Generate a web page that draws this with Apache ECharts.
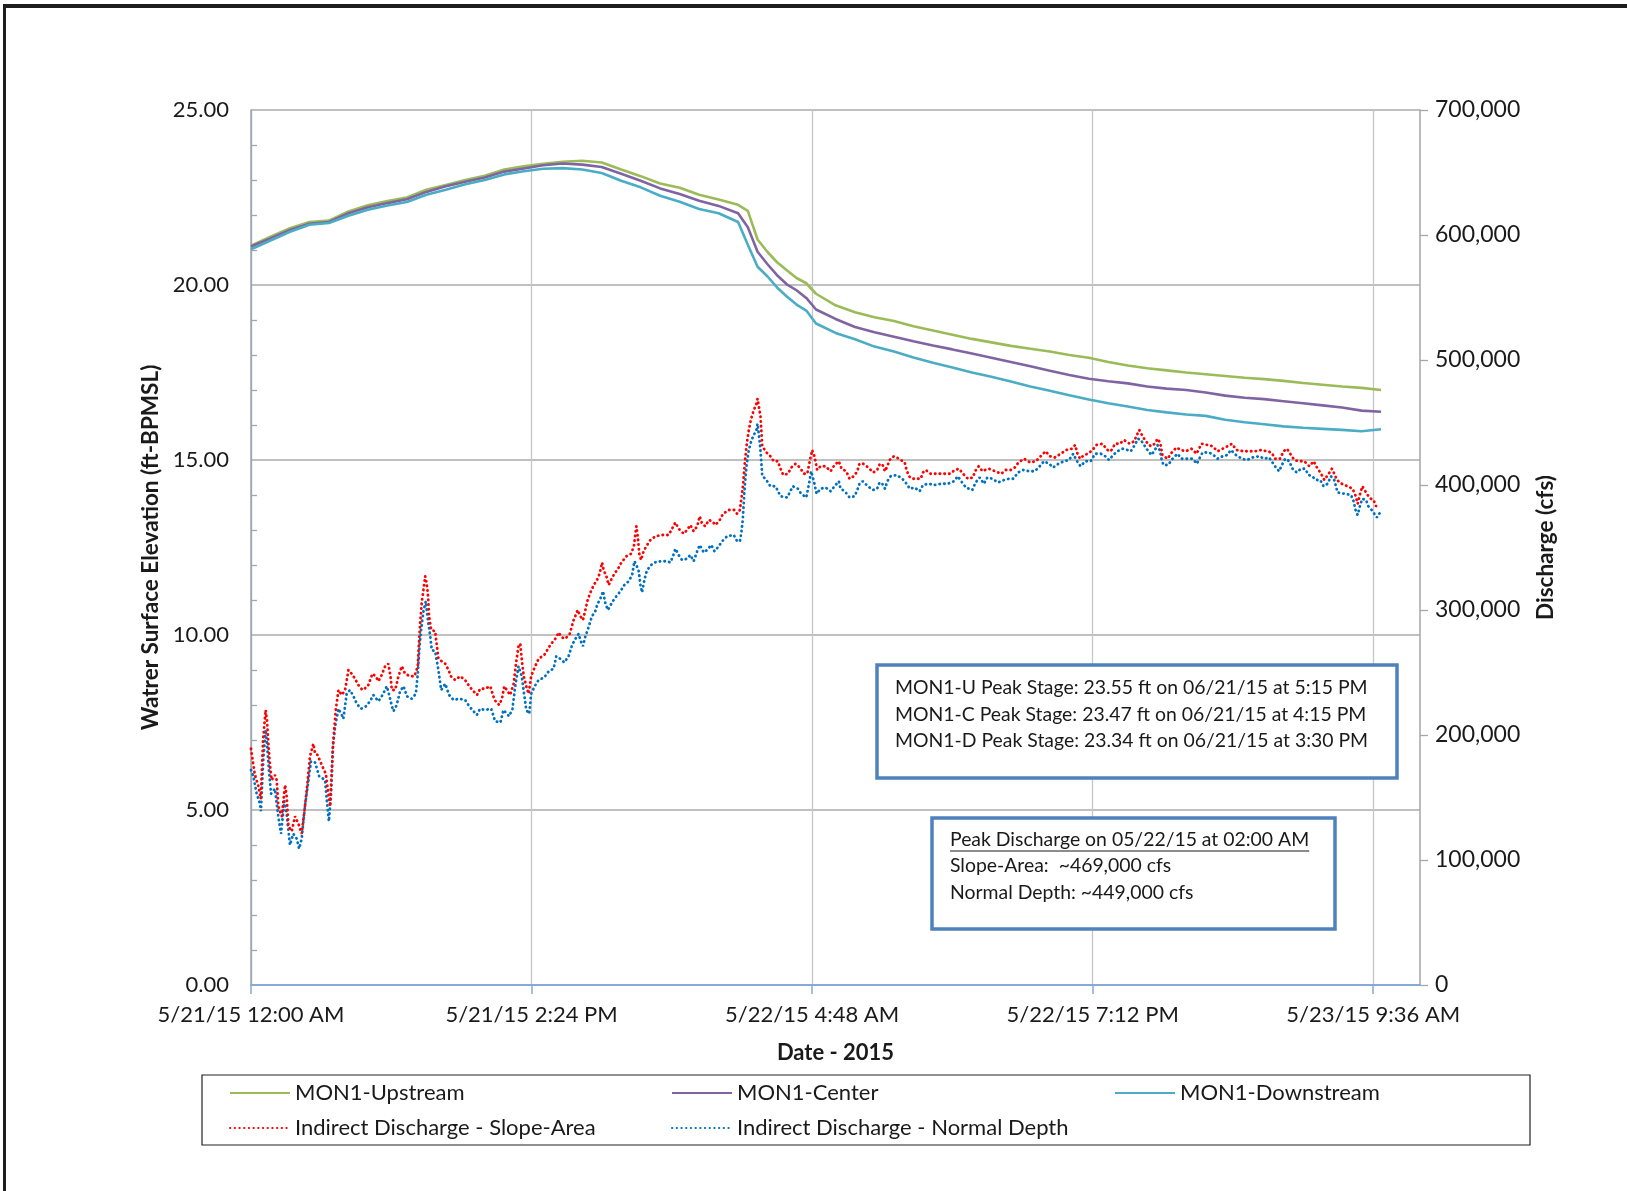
<!DOCTYPE html>
<html><head><meta charset="utf-8">
<script src="https://cdn.jsdelivr.net/npm/echarts@6/dist/echarts.min.js"></script>
<style>html,body{margin:0;padding:0;background:#fff}#c{width:1627px;height:1191px}</style>
</head><body><div id="c"></div>
<script>
const FONT = 'Lato';
const xTickHours = [0, 14.4, 28.8, 43.2, 57.6];
const xTickLabels = ['5/21/15 12:00 AM', '5/21/15 2:24 PM', '5/22/15 4:48 AM', '5/22/15 7:12 PM', '5/23/15 9:36 AM'];

// hours since 5/21/15 12:00 AM
const stageHours = [0,1,2,3,4,5,6,7,8,9,10,11,12,13,14,15,16,17,18,19,20,21,22,23,24,25,25.5,26,26.5,27,27.5,28,28.5,29,
  30,31,32,33,34,35,36,37,38,39,40,41,42,43,44,45,46,47,48,49,50,51,52,53,54,55,56,57,58];
const upstream = [21.12,21.38,21.62,21.8,21.84,22.1,22.28,22.4,22.5,22.72,22.86,23.0,23.12,23.3,23.39,23.46,23.52,23.55,23.5,23.3,23.11,22.9,22.78,22.58,22.44,22.29,
  22.12,21.3,20.95,20.65,20.42,20.2,20.05,19.75,
  19.42,19.22,19.08,18.97,18.82,18.7,18.58,18.46,18.36,18.26,18.18,18.1,18.0,17.92,17.8,17.7,17.62,17.56,17.5,17.45,17.4,17.35,17.31,17.26,17.2,17.15,17.1,17.06,17.0];
const center = [21.1,21.33,21.57,21.75,21.8,22.05,22.22,22.34,22.45,22.66,22.82,22.95,23.07,23.24,23.33,23.42,23.47,23.44,23.37,23.18,22.98,22.76,22.6,22.41,22.26,22.05,
  21.65,20.95,20.6,20.28,20.02,19.85,19.63,19.3,
  19.03,18.8,18.65,18.52,18.39,18.27,18.16,18.04,17.92,17.8,17.68,17.55,17.43,17.32,17.25,17.19,17.1,17.04,17.0,16.93,16.84,16.78,16.74,16.68,16.62,16.56,16.5,16.41,16.38];
const downstream = [21.02,21.27,21.52,21.72,21.77,21.98,22.15,22.27,22.37,22.58,22.72,22.88,23.0,23.16,23.25,23.32,23.34,23.3,23.2,22.98,22.79,22.55,22.38,22.17,22.05,21.8,
  21.15,20.52,20.25,19.93,19.67,19.44,19.27,18.9,
  18.63,18.45,18.24,18.1,17.93,17.78,17.64,17.5,17.38,17.24,17.1,16.98,16.85,16.73,16.62,16.53,16.43,16.36,16.3,16.26,16.15,16.08,16.02,15.96,15.92,15.89,15.86,15.82,15.88];

// [hour, discharge in thousand cfs]
const slopeArea = [[0,189],[0.2,168],[0.38,159],[0.5,149],[0.62,196],[0.75,220],[0.82,212],[0.89,193],[0.98,175],[1.06,164],[1.23,168],[1.32,164],[1.4,143],[1.58,135],[1.75,160],[1.83,151],[1.92,127],[2.09,123],[2.26,135],[2.43,129],[2.6,121],[2.74,139],[2.86,156],[3.03,183],[3.2,193],[3.29,185],[3.42,184],[3.66,175],[3.84,169],[3.97,153],[4.06,143],[4.14,169],[4.23,196],[4.35,220],[4.49,236],[4.66,232],[4.83,236],[5.0,252],[5.17,249],[5.34,245],[5.51,240],[5.72,236],[6.0,239],[6.23,249],[6.4,247],[6.54,243],[6.71,248],[6.88,255],[7.05,257],[7.16,247],[7.23,236],[7.4,236],[7.57,247],[7.74,255],[7.91,249],[8.17,247],[8.39,247],[8.56,255],[8.6,268],[8.68,289],[8.77,307],[8.85,316],[8.94,327],[9.02,321],[9.08,313],[9.14,295],[9.25,284],[9.45,283],[9.62,261],[9.79,259],[9.97,257],[10.14,252],[10.26,247],[10.48,244],[10.74,247],[10.99,244],[11.2,239],[11.42,235],[11.6,232],[11.76,237],[12.0,237],[12.28,239],[12.5,228],[12.74,224],[12.88,229],[13.0,239],[13.13,236],[13.3,232],[13.48,241],[13.6,257],[13.73,271],[13.82,273],[13.9,260],[14.0,247],[14.16,237],[14.25,233],[14.38,247],[14.5,252],[14.76,261],[15.05,264],[15.36,272],[15.62,277],[15.79,282],[15.96,278],[16.13,277],[16.36,281],[16.56,292],[16.77,300],[16.9,295],[17.04,292],[17.16,300],[17.28,308],[17.42,314],[17.59,320],[17.76,324],[17.89,329],[18.02,338],[18.1,332],[18.24,327],[18.36,320],[18.48,324],[18.65,329],[18.84,333],[19.01,338],[19.27,343],[19.51,345],[19.65,351],[19.73,361],[19.78,367],[19.85,359],[19.93,345],[20.02,340],[20.15,347],[20.29,351],[20.5,356],[20.76,359],[21.1,360],[21.44,360],[21.61,365],[21.78,370],[21.95,365],[22.21,361],[22.38,364],[22.55,368],[22.72,363],[22.9,367],[23.03,375],[23.15,369],[23.32,367],[23.5,372],[23.67,371],[23.84,368],[24.06,372],[24.23,377],[24.52,380],[24.81,380],[24.95,377],[25.09,380],[25.17,389],[25.26,401],[25.33,415],[25.43,431],[25.55,444],[25.67,453],[25.81,460],[25.94,465],[26.0,469],[26.15,455],[26.24,431],[26.46,426],[26.66,423],[26.83,419],[27.04,419],[27.18,413],[27.32,408],[27.56,409],[27.73,414],[27.95,417],[28.17,414],[28.38,409],[28.55,409],[28.68,419],[28.8,428],[28.92,423],[29.06,412],[29.23,415],[29.49,415],[29.75,411],[29.95,416],[30.17,419],[30.31,413],[30.55,411],[30.72,405],[30.94,407],[31.12,411],[31.23,417],[31.42,417],[31.68,414],[31.94,410],[32.14,412],[32.28,417],[32.42,416],[32.54,411],[32.66,415],[32.78,420],[33.0,423],[33.26,421],[33.55,418],[33.65,412],[33.77,407],[33.94,405],[34.15,405],[34.37,405],[34.49,410],[34.63,412],[34.88,409],[35.19,409],[35.52,409],[35.87,409],[36.13,412],[36.34,413],[36.54,409],[36.8,405],[37.06,406],[37.16,411],[37.35,415],[37.55,411],[37.68,412],[37.88,413],[38.19,411],[38.51,409],[38.74,412],[38.99,412],[39.2,414],[39.39,418],[39.68,421],[39.99,418],[40.28,419],[40.53,423],[40.79,427],[41.0,423],[41.25,422],[41.56,425],[41.85,428],[42.13,429],[42.3,432],[42.42,425],[42.55,421],[42.76,424],[42.96,425],[43.19,428],[43.39,432],[43.7,433],[43.96,428],[44.13,427],[44.35,433],[44.59,433],[44.81,436],[45.1,433],[45.33,435],[45.47,440],[45.59,444],[45.76,439],[45.93,435],[46.18,431],[46.39,433],[46.53,437],[46.66,434],[46.78,424],[47.04,421],[47.26,426],[47.5,430],[47.73,428],[47.98,427],[48.27,429],[48.53,425],[48.79,433],[49.1,432],[49.35,431],[49.61,427],[49.87,429],[50.12,431],[50.35,433],[50.58,428],[50.93,427],[51.24,427],[51.53,427],[51.87,428],[52.13,427],[52.38,426],[52.57,421],[52.81,421],[53.0,427],[53.17,429],[53.34,425],[53.55,420],[53.8,419],[54.06,419],[54.32,415],[54.54,419],[54.71,414],[54.92,409],[55.09,404],[55.31,409],[55.48,413],[55.6,409],[55.74,404],[55.98,401],[56.29,399],[56.54,397],[56.68,392],[56.8,385],[56.93,393],[57.04,399],[57.16,396],[57.31,392],[57.48,389],[57.62,388],[57.74,383],[57.91,384]];

const normalDepth = [[0,172],[0.12,167],[0.29,153],[0.46,145],[0.51,139],[0.63,180],[0.75,204],[0.82,193],[0.92,172],[1.03,153],[1.23,157],[1.4,135],[1.54,121],[1.71,147],[1.83,137],[2.0,112],[2.17,121],[2.35,117],[2.47,109],[2.6,117],[2.77,143],[2.95,164],[3.08,179],[3.29,178],[3.5,167],[3.8,164],[3.89,148],[4.0,131],[4.11,153],[4.2,191],[4.32,207],[4.49,221],[4.66,216],[4.74,213],[4.91,233],[5.08,236],[5.26,231],[5.43,225],[5.65,221],[5.9,223],[6.11,227],[6.28,232],[6.54,227],[6.75,232],[6.97,239],[7.11,231],[7.23,223],[7.31,219],[7.48,224],[7.65,235],[7.83,239],[8.0,231],[8.25,229],[8.46,233],[8.56,249],[8.65,271],[8.73,284],[8.85,299],[8.97,307],[9.08,292],[9.2,279],[9.28,268],[9.45,267],[9.62,252],[9.76,236],[9.97,241],[10.17,232],[10.4,228],[10.68,229],[10.99,228],[11.2,223],[11.42,219],[11.59,216],[11.76,221],[12.0,220],[12.33,221],[12.53,211],[12.8,210],[12.96,220],[13.13,217],[13.25,215],[13.42,221],[13.56,239],[13.73,255],[13.9,247],[13.99,236],[14.13,220],[14.28,217],[14.38,233],[14.56,239],[14.76,244],[15.05,246],[15.28,251],[15.53,253],[15.67,263],[15.87,261],[16.08,258],[16.3,263],[16.48,272],[16.65,277],[16.82,281],[16.9,276],[17.04,271],[17.16,279],[17.28,284],[17.38,289],[17.5,295],[17.67,299],[17.79,305],[17.93,309],[18.07,315],[18.19,305],[18.32,300],[18.53,306],[18.75,311],[18.96,315],[19.16,320],[19.39,323],[19.56,328],[19.68,339],[19.78,336],[19.9,331],[19.99,320],[20.07,314],[20.19,324],[20.29,330],[20.46,335],[20.7,338],[21.05,339],[21.35,339],[21.52,338],[21.66,343],[21.78,349],[21.95,344],[22.12,340],[22.38,341],[22.55,344],[22.72,339],[22.9,347],[23.03,352],[23.24,346],[23.41,348],[23.62,352],[23.79,347],[24.01,351],[24.18,355],[24.44,359],[24.78,360],[24.95,355],[25.09,355],[25.16,361],[25.24,372],[25.33,396],[25.43,415],[25.55,428],[25.69,436],[25.81,440],[25.94,444],[26.0,449],[26.12,433],[26.2,417],[26.24,407],[26.41,405],[26.66,399],[26.92,399],[27.18,391],[27.52,390],[27.81,399],[28.07,397],[28.24,393],[28.5,390],[28.63,400],[28.75,411],[28.89,403],[29.03,393],[29.23,397],[29.49,398],[29.75,395],[29.95,399],[30.17,403],[30.26,397],[30.48,395],[30.72,390],[30.98,391],[31.12,396],[31.23,401],[31.4,403],[31.66,399],[31.92,396],[32.14,397],[32.26,402],[32.4,401],[32.54,397],[32.66,403],[32.83,407],[33.14,408],[33.43,405],[33.65,401],[33.81,397],[34.06,398],[34.32,395],[34.49,400],[34.76,401],[35.09,400],[35.43,401],[35.77,401],[36.08,403],[36.28,407],[36.45,403],[36.69,398],[37.02,396],[37.19,402],[37.4,406],[37.62,401],[37.79,406],[38.05,405],[38.34,402],[38.65,404],[38.91,405],[39.13,405],[39.37,410],[39.63,412],[39.94,411],[40.23,411],[40.48,415],[40.7,419],[40.96,417],[41.17,414],[41.44,417],[41.73,419],[41.99,420],[42.2,425],[42.33,421],[42.47,417],[42.59,415],[42.81,419],[43.1,419],[43.32,425],[43.62,425],[43.84,423],[44.04,420],[44.25,424],[44.47,427],[44.73,429],[44.98,428],[45.16,427],[45.36,432],[45.53,437],[45.67,436],[45.84,432],[46.01,428],[46.22,424],[46.39,428],[46.53,432],[46.66,427],[46.73,421],[46.83,416],[47.07,416],[47.3,421],[47.55,425],[47.76,421],[48.03,421],[48.32,421],[48.55,417],[48.67,421],[48.84,426],[49.18,426],[49.4,424],[49.61,421],[49.87,423],[50.12,424],[50.29,428],[50.55,424],[50.86,421],[51.12,420],[51.41,422],[51.75,423],[52.0,421],[52.26,422],[52.43,418],[52.6,414],[52.77,411],[52.91,416],[53.08,421],[53.29,419],[53.46,413],[53.67,410],[53.89,413],[54.1,413],[54.28,408],[54.46,407],[54.66,404],[54.88,404],[55.05,399],[55.26,401],[55.43,407],[55.6,404],[55.77,394],[56.12,393],[56.46,392],[56.59,387],[56.71,379],[56.8,376],[56.93,384],[57.04,389],[57.23,388],[57.35,383],[57.52,380],[57.62,379],[57.79,374],[57.99,379]];

const stageBoxLines = ['MON1-U Peak Stage: 23.55 ft on 06/21/15 at 5:15 PM',
  'MON1-C Peak Stage: 23.47 ft on 06/21/15 at 4:15 PM',
  'MON1-D Peak Stage: 23.34 ft on 06/21/15 at 3:30 PM'];
const dischargeBoxLines = ['Peak Discharge on 05/22/15 at 02:00 AM',
  'Slope-Area:  ~469,000 cfs',
  'Normal Depth: ~449,000 cfs'];

const seriesNames = ['MON1-Upstream', 'MON1-Center', 'MON1-Downstream',
  'Indirect Discharge - Slope-Area', 'Indirect Discharge - Normal Depth'];
const seriesColors = ['#9BBB59', '#8064A2', '#4BACC6', '#FF0000', '#0070C0'];

function textWidth(str, font) {
  const ctx = document.createElement('canvas').getContext('2d');
  ctx.font = font;
  return ctx.measureText(str).width;
}
function commas(v) {
  return String(v).replace(/\B(?=(\d{3})+(?!\d))/g, ',');
}

const TXT = '#1a1a1a';
const boxFont = 19.4;
const chart = echarts.init(document.getElementById('c'), null, {renderer: 'canvas'});

const stageSeries = [upstream, center, downstream].map((arr, k) => ({
  name: seriesNames[k], type: 'line', xAxisIndex: 0, yAxisIndex: 0,
  data: stageHours.map((h, i) => [h, arr[i]]),
  symbol: 'none', showSymbol: false, z: 3,
  lineStyle: {color: seriesColors[k], width: 2.6},
  itemStyle: {color: seriesColors[k]}
}));
const dischargeSeries = [slopeArea, normalDepth].map((arr, k) => ({
  name: seriesNames[3 + k], type: 'line', xAxisIndex: 0, yAxisIndex: 1,
  data: arr.map(p => [p[0], p[1] * 1000]),
  symbol: 'none', showSymbol: false, z: 4 - k,
  lineStyle: {color: seriesColors[3 + k], width: 2.8, type: [0.3, 4.4], cap: 'round'},
  itemStyle: {color: seriesColors[3 + k]}
}));

const legendBase = {
  orient: 'horizontal', padding: 0, itemGap: 0, itemWidth: 60, itemHeight: 14,
  selectedMode: false,
  itemStyle: {opacity: 0, color: 'rgba(0,0,0,0)', borderWidth: 0},
  textStyle: {fontSize: 22, fontFamily: FONT, color: TXT, lineHeight: 24}
};
const legendPos = [[229, 1081], [671, 1081], [1114, 1081], [229, 1116], [671, 1116]];

const ulFont = boxFont + 'px ' + FONT;
const ulW = textWidth(dischargeBoxLines[0], ulFont);

const graphics = [
  // outer frame (top & left)
  {type: 'rect', z: 100, shape: {x: 3, y: 4, width: 1624, height: 4}, style: {fill: '#1e1e1e'}},
  {type: 'rect', z: 100, shape: {x: 3, y: 4, width: 3, height: 1187}, style: {fill: '#1e1e1e'}},
  // legend frame
  {type: 'rect', z: 1, shape: {x: 202, y: 1075, width: 1328, height: 70}, style: {fill: 'none', stroke: '#222', lineWidth: 1.2}},
  // stage box
  {type: 'rect', z: 50, shape: {x: 877, y: 665, width: 520, height: 113}, style: {fill: '#fff', stroke: '#4F81BD', lineWidth: 3.5}},
  // discharge box
  {type: 'rect', z: 50, shape: {x: 932, y: 818, width: 403, height: 111}, style: {fill: '#fff', stroke: '#4F81BD', lineWidth: 3.5}},
  {type: 'line', z: 52, shape: {x1: 950, y1: 851, x2: 950 + ulW, y2: 851}, style: {stroke: TXT, lineWidth: 1.2}}
];
stageBoxLines.forEach((t, i) => graphics.push({type: 'text', z: 51, x: 895, y: [688, 715, 741][i],
  style: {text: t, fontSize: boxFont, fontFamily: FONT, fill: TXT, align: 'left', verticalAlign: 'middle'}}));
dischargeBoxLines.forEach((t, i) => graphics.push({type: 'text', z: 51, x: 950, y: [840, 866, 893][i],
  style: {text: t, fontSize: boxFont, fontFamily: FONT, fill: TXT, align: 'left', verticalAlign: 'middle'}}));

const option = {
  animation: false,
  backgroundColor: '#ffffff',
  textStyle: {fontFamily: FONT},
  grid: {left: 251, right: 207, top: 110, bottom: 206, containLabel: false, outerBoundsMode: 'none'},
  xAxis: [{
    type: 'value', min: 0, max: 60, interval: 2.88, position: 'bottom',
    axisLine: {show: true, onZero: false, lineStyle: {color: '#86A9D8', width: 2}},
    axisTick: {show: true, length: 9, customValues: xTickHours, lineStyle: {color: '#86A9D8', width: 1.5}},
    axisLabel: {
      customValues: xTickHours, margin: 19, fontSize: 22, fontFamily: FONT, color: TXT,
      formatter: v => { const i = xTickHours.findIndex(t => Math.abs(t - v) < 1e-6); return i >= 0 ? xTickLabels[i] : ''; }
    },
    splitLine: {show: true, lineStyle: {color: ['#7FA6D8', '#C6C6C6', '#C6C6C6', '#C6C6C6', '#C6C6C6'], width: 1.3}},
    name: 'Date - 2015', nameLocation: 'middle', nameGap: 57,
    nameTextStyle: {fontWeight: 'bold', fontSize: 22, fontFamily: FONT, color: TXT}
  }],
  yAxis: [{
    type: 'value', min: 0, max: 25, interval: 5, position: 'left',
    axisLine: {show: true, lineStyle: {color: '#A6A6A6', width: 1.5}},
    axisTick: {show: false, inside: true},
    minorTick: {show: true, splitNumber: 5, length: 6, lineStyle: {color: '#A6A6A6', width: 1.3}},
    minorSplitLine: {show: false},
    axisLabel: {formatter: v => v.toFixed(2), margin: 22, fontSize: 22, fontFamily: FONT, color: TXT},
    splitLine: {show: true, lineStyle: {color: '#ABABAB', width: 1.5}},
    name: 'Watrer Surface Elevation (ft-BPMSL)', nameLocation: 'middle', nameGap: 84, nameRotate: 90,
    nameTextStyle: {fontWeight: 'bold', fontSize: 22.5, fontFamily: FONT, color: TXT}
  }, {
    type: 'value', min: 0, max: 700000, interval: 100000, position: 'right',
    axisLine: {show: true, lineStyle: {color: '#A6A6A6', width: 1.5}},
    axisTick: {show: true, length: 8, lineStyle: {color: '#A6A6A6', width: 1.3}},
    axisLabel: {formatter: v => commas(v), margin: 15, fontSize: 23, fontFamily: FONT, color: TXT},
    splitLine: {show: false},
    name: 'Discharge (cfs)', nameLocation: 'middle', nameGap: 114, nameRotate: 90,
    nameTextStyle: {fontWeight: 'bold', fontSize: 22.5, fontFamily: FONT, color: TXT}
  }],
  legend: seriesNames.map((n, i) => Object.assign({}, legendBase, {data: [n], left: legendPos[i][0], top: legendPos[i][1]})),
  graphic: {elements: graphics},
  series: stageSeries.concat(dischargeSeries)
};
chart.setOption(option);
</script>
</body></html>
